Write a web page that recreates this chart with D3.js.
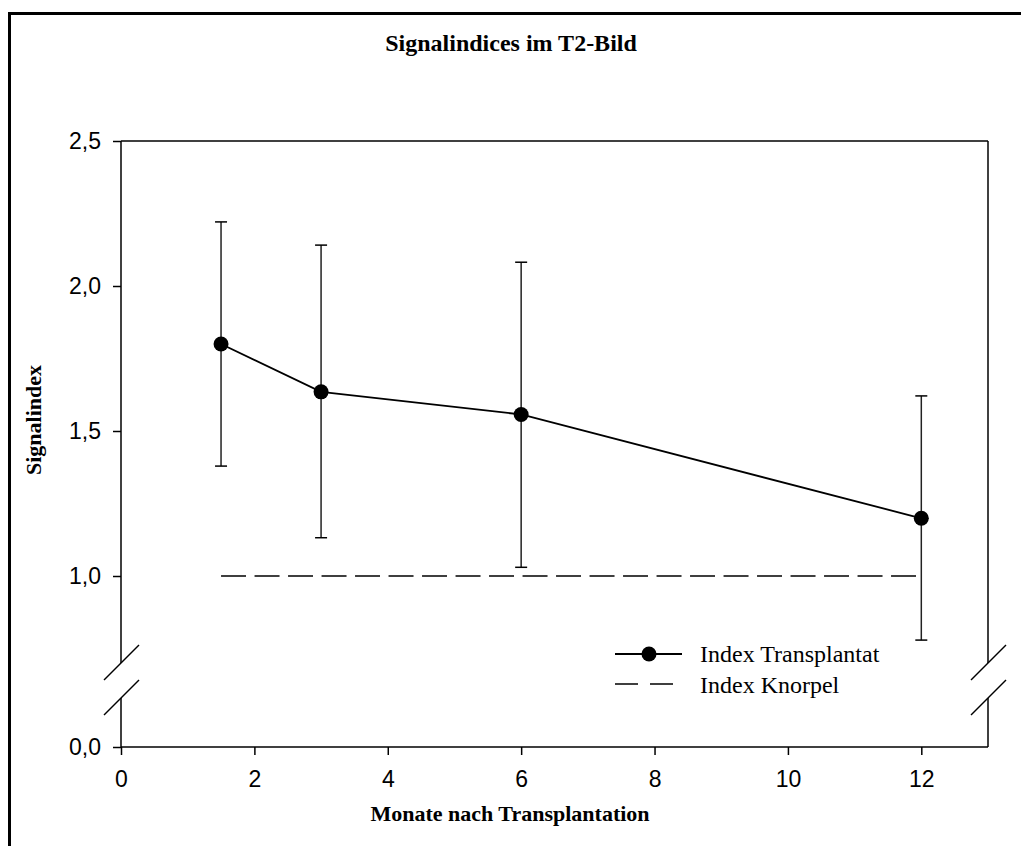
<!DOCTYPE html>
<html>
<head>
<meta charset="utf-8">
<script src="https://cdn.jsdelivr.net/npm/d3@7"></script>
<style>
  html, body { margin: 0; padding: 0; background: #fff; }
  svg { display: block; }
</style>
</head>
<body>
<svg id="chart" width="1021" height="846"></svg>
<script>
// Months after transplantation and mean signal index with error bars
const months = [1.5, 3, 6, 12];
const meanIndex = [1.80, 1.635, 1.557, 1.199];
const upperIndex = [2.221, 2.141, 2.082, 1.621];
const lowerIndex = [1.379, 1.132, 1.030, 0.779];
// Reference level of cartilage
const cartilageIndex = 1.0;
const cartilageSpan = [1.5, 12];

const xTicks = [0, 2, 4, 6, 8, 10, 12];
const yTicksUpper = [1.0, 1.5, 2.0, 2.5];
const yTicksLower = [0.0];

const title = "Signalindices im T2-Bild";
const xTitle = "Monate nach Transplantation";
const yTitle = "Signalindex";
const legendLabels = ["Index Transplantat", "Index Knorpel"];

const svg = d3.select("#chart");
const plotLeft = 121, plotRight = 988, plotTop = 141, plotBottom = 747;
const breakTop = 663, breakBottom = 698;

const de = d3.formatLocale({decimal: ",", thousands: ".", grouping: [3], currency: ["", " €"]});
const fmt = de.format(".1f");

const x = d3.scaleLinear().domain([0, 13]).range([plotLeft, plotRight]);
// broken y axis: upper segment and a short segment near zero
const yUp = d3.scaleLinear().domain([0.7, 2.5]).range([breakTop, plotTop]);
const yLow = d3.scaleLinear().domain([0, 0.17]).range([plotBottom, breakBottom]);

// outer frame
svg.append("path")
  .attr("d", `M9.5,900 L9.5,13.5 L1030,13.5`)
  .attr("fill", "none").attr("stroke", "#000").attr("stroke-width", 3);

const sw = 1.5;
const frame = svg.append("g").attr("fill", "none").attr("stroke", "#000").attr("stroke-width", sw);
frame.append("line").attr("x1", plotLeft).attr("x2", plotRight).attr("y1", plotTop).attr("y2", plotTop);
[plotLeft, plotRight].forEach(px => {
  frame.append("line").attr("x1", px).attr("x2", px).attr("y1", plotTop).attr("y2", breakTop);
  frame.append("line").attr("x1", px).attr("x2", px).attr("y1", breakBottom).attr("y2", plotBottom);
  // break marks
  frame.append("line").attr("x1", px - 17).attr("y1", breakTop + 17).attr("x2", px + 18).attr("y2", breakTop - 18);
  frame.append("line").attr("x1", px - 17).attr("y1", breakBottom + 17).attr("x2", px + 18).attr("y2", breakBottom - 18);
});

// x axis
const xAxis = svg.append("g").attr("transform", `translate(0,${plotBottom})`)
  .call(d3.axisBottom(x).tickValues(xTicks).tickSize(8).tickPadding(16).tickFormat(d3.format("d")));

// y axes (two segments)
const yAxUp = svg.append("g").attr("transform", `translate(${plotLeft},0)`)
  .call(d3.axisLeft(yUp).tickValues(yTicksUpper).tickSize(8).tickPadding(12).tickFormat(fmt));
const yAxLow = svg.append("g").attr("transform", `translate(${plotLeft},0)`)
  .call(d3.axisLeft(yLow).tickValues(yTicksLower).tickSize(8).tickPadding(12).tickFormat(fmt));
[xAxis, yAxUp, yAxLow].forEach(g => {
  g.selectAll(".domain").remove();
  g.selectAll(".tick line").attr("stroke", "#000").attr("stroke-width", sw);
  g.selectAll(".tick text").attr("fill", "#000")
    .style("font-family", "'Liberation Sans', Arial, sans-serif").style("font-size", "23px");
});
svg.append("line").attr("x1", plotLeft).attr("x2", plotRight).attr("y1", plotBottom).attr("y2", plotBottom)
  .attr("stroke", "#000").attr("stroke-width", sw);

// cartilage reference line
svg.append("line")
  .attr("x1", x(cartilageSpan[0])).attr("x2", x(cartilageSpan[1]))
  .attr("y1", yUp(cartilageIndex)).attr("y2", yUp(cartilageIndex))
  .attr("stroke", "#000").attr("stroke-width", sw).attr("stroke-dasharray", "25,8.5");

// error bars
const eb = svg.append("g").attr("stroke", "#222").attr("stroke-width", sw);
months.forEach((m, i) => {
  eb.append("line").attr("x1", x(m)).attr("x2", x(m)).attr("y1", yUp(upperIndex[i])).attr("y2", yUp(lowerIndex[i]));
  [upperIndex[i], lowerIndex[i]].forEach(v => {
    eb.append("line").attr("x1", x(m) - 6).attr("x2", x(m) + 6).attr("y1", yUp(v)).attr("y2", yUp(v)).attr("stroke", "#000");
  });
});

// mean line and markers
const pts = months.map((m, i) => [m, meanIndex[i]]);
svg.append("path").datum(pts)
  .attr("d", d3.line().x(d => x(d[0])).y(d => yUp(d[1])))
  .attr("fill", "none").attr("stroke", "#000").attr("stroke-width", 1.8);
svg.selectAll("circle.pt").data(pts).enter().append("circle").attr("class", "pt")
  .attr("cx", d => x(d[0])).attr("cy", d => yUp(d[1])).attr("r", 7.5).attr("fill", "#000");

// legend
const lg = svg.append("g");
lg.append("line").attr("x1", 615).attr("x2", 682).attr("y1", 654).attr("y2", 654).attr("stroke", "#000").attr("stroke-width", 1.8);
lg.append("circle").attr("cx", 649).attr("cy", 654).attr("r", 7.5).attr("fill", "#000");
lg.append("line").attr("x1", 615).attr("x2", 675).attr("y1", 684).attr("y2", 684)
  .attr("stroke", "#000").attr("stroke-width", sw).attr("stroke-dasharray", "23,12");
legendLabels.forEach((t, i) => {
  lg.append("text").attr("x", 700).attr("y", 662 + i * 31).text(t)
    .style("font-family", "'Liberation Serif', 'Times New Roman', serif").style("font-size", "24px");
});

// titles
const serifBold = t => t.style("font-family", "'Liberation Serif', 'Times New Roman', serif").style("font-weight", "bold");
serifBold(svg.append("text").attr("x", 511).attr("y", 51).attr("text-anchor", "middle").text(title)).style("font-size", "24px");
serifBold(svg.append("text").attr("x", 510).attr("y", 821).attr("text-anchor", "middle").text(xTitle)).style("font-size", "22px");
serifBold(svg.append("text").attr("transform", "translate(41,420) rotate(-90)").attr("text-anchor", "middle").text(yTitle)).style("font-size", "22px");
</script>
</body>
</html>
